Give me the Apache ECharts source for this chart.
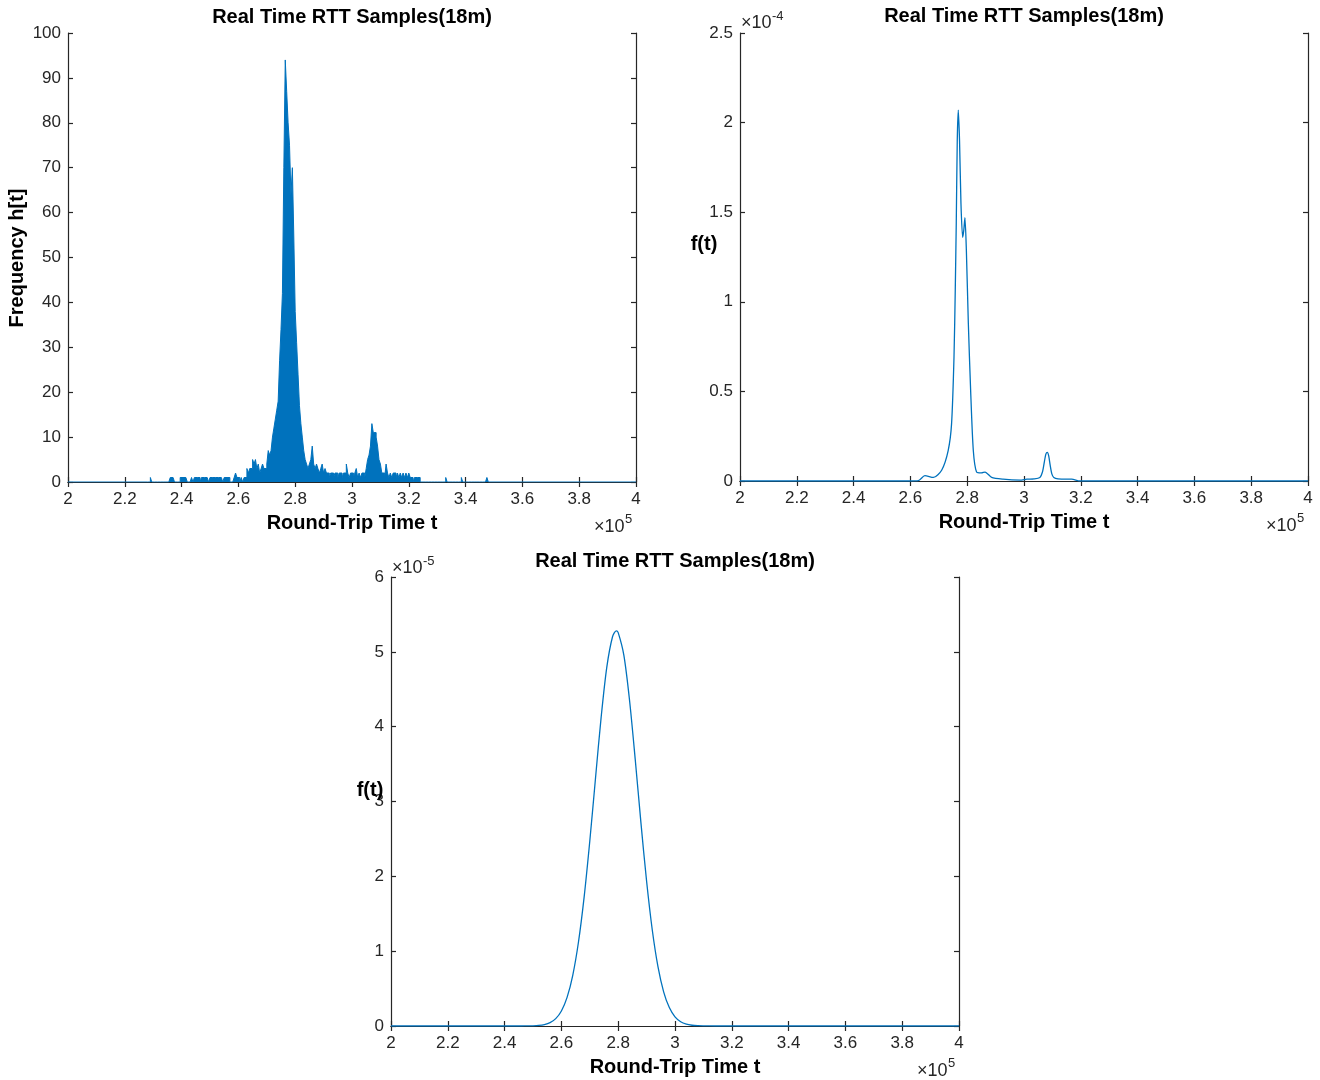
<!DOCTYPE html>
<html>
<head>
<meta charset="utf-8">
<title>Real Time RTT Samples(18m)</title>
<script src="https://cdn.jsdelivr.net/npm/echarts@6/dist/echarts.min.js"></script>
<style>
  html, body { margin: 0; padding: 0; background: #ffffff; }
  #chart { width: 1320px; height: 1080px; }
</style>
</head>
<body>
<div id="chart"></div>
<script>
// ---- Histogram of round-trip times (bin width 500, first bin edge 228000) ----
const histStart = 228000;
const binWidth = 500;
const histCounts = [
  // 228000 - 237500
  0,0,1,0,0,0,0,0,0,0, 0,0,0,0,0,0,1,1,1,0,
  // 238000 - 247500
  0,0,0,1,1,1,1,1,0,0, 0,1,0,1,1,1,1,0,1,1,
  // 248000 - 257500
  1,1,1,0,1,1,1,1,1,1, 1,1,1,0,1,1,1,1,0,0,
  // 258000 - 267500
  0,1,2,1,1,0,1,0,1,1, 3,2,3,3,5,4,5,3,4,2,
  // 268000 - 277500
  3,4,3,3,4,7,6,7,10,12, 14,16,18,27,34,42,70,94,87,80,
  // 278000 - 287500
  75,64,70,55,38,31,24,17,13,10, 7,5,4,3,4,5,8,4,3,4,
  // 288000 - 297500
  3,2,3,4,2,3,2,2,1,2, 2,1,2,2,1,2,2,1,2,2,
  // 298000 - 307500
  4,2,1,2,2,1,2,3,1,2, 1,2,2,1,3,5,6,8,13,11,
  // 308000 - 317500
  11,10,8,5,4,2,2,1,4,2, 1,2,1,2,2,1,2,1,2,1,
  // 318000 - 327500
  2,1,2,1,2,1,1,0,1,1, 1,1,0,0,0,0,0,0,0,0,
  // 328000 - 337500
  0,0,0,0,0,0,0,0,0,0, 1,0,0,0,0,0,0,0,0,0,
  // 338000 - 347500
  0,1,0,0,0,0,0,0,0,0, 0,0,0,0,0,0,0,0,0,1
];

// ---- Kernel density estimate f(t) ----
const kdeT = [200000, 260000, 262800, 265100, 268100, 271000, 273300, 274500, 275350, 275800,
              276150, 276500, 276860, 277300, 277800, 278400, 278800, 279200, 279700, 280400,
              281200, 282150, 283300, 285000, 286300, 288600, 292600, 298600, 301000, 303500,
              305600, 306500, 307200, 307700, 308200, 308700, 309200, 309800, 310500, 312000,
              315000, 316800, 319700, 400000];
const kdeF = [0, 0, 0.002e-4, 0.03e-4, 0.02e-4, 0.06e-4, 0.17e-4, 0.32e-4, 0.69e-4, 1.07e-4,
              1.44e-4, 1.90e-4, 2.07e-4, 1.90e-4, 1.55e-4, 1.36e-4, 1.40e-4, 1.47e-4, 1.29e-4, 0.88e-4,
              0.51e-4, 0.17e-4, 0.05e-4, 0.045e-4, 0.05e-4, 0.02e-4, 0.01e-4, 0.005e-4, 0.01e-4, 0.012e-4,
              0.02e-4, 0.05e-4, 0.11e-4, 0.15e-4, 0.16e-4, 0.14e-4, 0.09e-4, 0.04e-4, 0.02e-4, 0.012e-4,
              0.01e-4, 0.01e-4, 0, 0];

// ---- Normal fit f(t) ----
const gaussT = [200000, 244000, 246000, 248000, 250000, 252000, 254000, 256000, 258000, 260000,
                262000, 264000, 266000, 268000, 270000, 272000, 274000, 276000, 278000, 279300,
                280000, 282000, 284000, 286000, 288000, 290000, 292000, 294000, 296000, 298000,
                300000, 302000, 304000, 306000, 308000, 310000, 312000, 316000, 400000];
const gaussF = [0, 0, 0.0003e-5, 0.001e-5, 0.0028e-5, 0.0076e-5, 0.0192e-5, 0.0451e-5, 0.0987e-5, 0.201e-5,
                0.383e-5, 0.678e-5, 1.119e-5, 1.723e-5, 2.473e-5, 3.308e-5, 4.127e-5, 4.799e-5, 5.202e-5, 5.28e-5,
                5.257e-5, 4.953e-5, 4.350e-5, 3.561e-5, 2.718e-5, 1.934e-5, 1.283e-5, 0.793e-5, 0.457e-5, 0.246e-5,
                0.123e-5, 0.0575e-5, 0.025e-5, 0.0101e-5, 0.0038e-5, 0.0014e-5, 0.0005e-5, 0, 0];

// ---- Axis settings ----
const xMin = 200000, xMax = 400000, xStep = 20000;
const histYMax = 100, histYStep = 10;
const kdeYMax = 2.5e-4, kdeYStep = 0.5e-4;
const gaussYMax = 6e-5, gaussYStep = 1e-5;

const titleText = 'Real Time RTT Samples(18m)';
const xName = 'Round-Trip Time t';

// ---- Build series data ----
const histData = [[xMin, 0]];
histCounts.forEach((c, i) => histData.push([histStart + i * binWidth, c]));
histData.push([histStart + histCounts.length * binWidth, 0]);
histData.push([xMax, 0]);
const kdeData = kdeT.map((t, i) => [t, kdeF[i]]);
const gaussData = gaussT.map((t, i) => [t, gaussF[i]]);

// ---- Style constants ----
const axisColor = '#262626';
const lineBlue = '#0072BD';
const fontFam = '"Liberation Sans", Arial, Helvetica, sans-serif';
const tickFont = 17;
const boldFont = 20;

const grids = [
  { left: 68, top: 33, width: 568, height: 449 },
  { left: 740, top: 33, width: 568, height: 448 },
  { left: 391, top: 577, width: 568, height: 449 }
];

function xAxisPair(gi) {
  const common = {
    type: 'value', gridIndex: gi, min: xMin, max: xMax, interval: xStep,
    splitLine: { show: false },
    axisLine: { show: true, lineStyle: { color: axisColor, width: 1.2 } },
    axisTick: { show: true, inside: true, length: 5, lineStyle: { color: axisColor, width: 1.2 } }
  };
  return [
    Object.assign({}, common, {
      position: 'bottom',
      axisLabel: {
        show: true, margin: 9, color: axisColor, fontSize: tickFont, fontFamily: fontFam,
        formatter: v => String(Math.round(v / 1e4) / 10)
      }
    }),
    Object.assign({}, common, { position: 'top', axisLabel: { show: false } })
  ];
}

function yAxisPair(gi, max, step, fmt) {
  const common = {
    type: 'value', gridIndex: gi, min: 0, max: max, interval: step,
    splitLine: { show: false },
    axisLine: { show: true, onZero: false, lineStyle: { color: axisColor, width: 1.2 } },
    axisTick: { show: true, inside: true, length: 5, lineStyle: { color: axisColor, width: 1.2 } }
  };
  return [
    Object.assign({}, common, {
      position: 'left',
      axisLabel: { show: true, margin: 7, color: axisColor, fontSize: tickFont, fontFamily: fontFam, formatter: fmt }
    }),
    Object.assign({}, common, { position: 'right', axisLabel: { show: false } })
  ];
}

const xAxes = [].concat(xAxisPair(0), xAxisPair(1), xAxisPair(2));
const yAxes = [].concat(
  yAxisPair(0, histYMax, histYStep, v => String(v)),
  yAxisPair(1, kdeYMax, kdeYStep, v => String(Math.round(v * 1e5) / 10)),
  yAxisPair(2, gaussYMax, gaussYStep, v => String(Math.round(v * 1e5)))
);

function txt(x, y, text, opts) {
  return {
    type: 'text', x: x, y: y, rotation: (opts && opts.rotation) || 0, z: 100,
    style: Object.assign({
      text: text, fill: axisColor, fontFamily: fontFam, fontSize: 18,
      textAlign: 'left', textVerticalAlign: 'middle'
    }, (opts && opts.style) || {})
  };
}
const boldCenter = { style: { fontSize: boldFont, fontWeight: 'bold', fill: '#000000', textAlign: 'center' } };
const sup = { style: { fontSize: 13 } };

const graphics = [
  // titles
  txt(352, 17, titleText, boldCenter),
  txt(1024, 16, titleText, boldCenter),
  txt(675, 561, titleText, boldCenter),
  // x axis names
  txt(352, 523, xName, boldCenter),
  txt(1024, 522, xName, boldCenter),
  txt(675, 1067, xName, boldCenter),
  // y axis names
  txt(17, 258, 'Frequency h[t]', { rotation: Math.PI / 2, style: { fontSize: boldFont, fontWeight: 'bold', fill: '#000000', textAlign: 'center' } }),
  txt(704, 244, 'f(t)', boldCenter),
  txt(370, 790, 'f(t)', boldCenter),
  // x exponents
  txt(594, 527, '\u00d710'), txt(625, 519, '5', sup),
  txt(1266, 526, '\u00d710'), txt(1297, 518, '5', sup),
  txt(917, 1071, '\u00d710'), txt(948, 1063, '5', sup),
  // y exponents
  txt(741, 23, '\u00d710'), txt(772, 16, '-4', sup),
  txt(392, 568, '\u00d710'), txt(423, 561, '-5', sup)
];

const chart = echarts.init(document.getElementById('chart'), null, { renderer: 'canvas' });
chart.setOption({
  animation: false,
  backgroundColor: '#ffffff',
  grid: grids,
  xAxis: xAxes,
  yAxis: yAxes,
  graphic: graphics,
  series: [
    {
      type: 'line', xAxisIndex: 0, yAxisIndex: 0, data: histData, step: 'end',
      showSymbol: false, symbol: 'none',
      lineStyle: { color: lineBlue, width: 1 },
      areaStyle: { color: lineBlue, opacity: 1 }
    },
    {
      type: 'line', xAxisIndex: 2, yAxisIndex: 2, data: kdeData, smooth: 0.25,
      showSymbol: false, symbol: 'none',
      lineStyle: { color: lineBlue, width: 1.3 }
    },
    {
      type: 'line', xAxisIndex: 4, yAxisIndex: 4, data: gaussData, smooth: 0.3,
      showSymbol: false, symbol: 'none',
      lineStyle: { color: lineBlue, width: 1.3 }
    }
  ]
});
</script>
</body>
</html>
